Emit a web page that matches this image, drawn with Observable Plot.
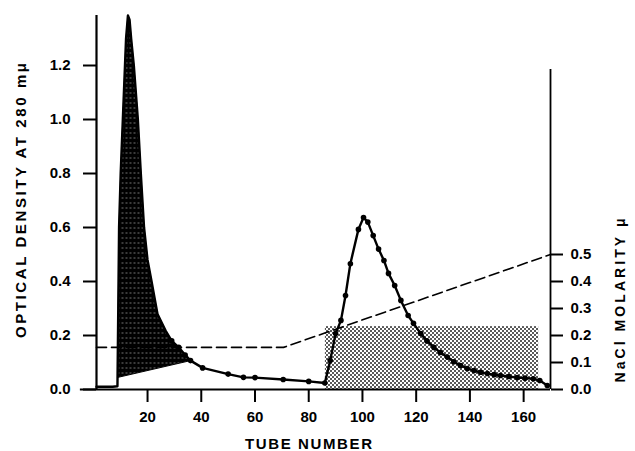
<!DOCTYPE html>
<html><head><meta charset="utf-8">
<script src="https://cdn.jsdelivr.net/npm/d3@7"></script>
<script src="https://cdn.jsdelivr.net/npm/@observablehq/plot@0.6"></script>
<style>body{margin:0;background:#fff}</style>
</head><body>
<svg width="0" height="0" style="position:absolute">
<defs>
<pattern id="darkdots" width="4" height="5" patternUnits="userSpaceOnUse">
<rect width="4" height="5" fill="#000"/>
<circle cx="2" cy="2.5" r="0.6" fill="#fff"/>
</pattern>
<pattern id="halftone" width="4" height="4" patternUnits="userSpaceOnUse">
<rect width="4" height="4" fill="#fff"/>
<circle cx="1" cy="1" r="1" fill="#222"/>
<circle cx="3" cy="3" r="1" fill="#222"/>
</pattern>
</defs></svg>
<div id="chart"></div>
<script>
// Elution profile (tube number, optical density at 280 mμ)
const tubes = [1, 3, 5, 7, 8.8, 9.1, 9.4, 10, 10.8, 11.6, 12.0, 12.7, 13.3, 13.9, 14.9, 16.4, 17.5, 18.7, 20, 21.5, 23.7, 26.7, 29, 31.6, 34, 36,
  40.5, 50, 55.7, 60, 70.5, 80, 86, 88, 90, 92, 93.7, 95.5, 98.5, 100.4, 102, 104, 106, 108, 109.7, 112, 114.3, 117, 119,
  121.7, 124, 126.6, 129, 131.6, 134, 136.5, 139, 141.5, 144, 146.5, 149, 151.4, 154.5, 157.6, 160.5, 163.6, 166, 168.8];
const od = [0.01, 0.01, 0.01, 0.01, 0.012, 0.3, 0.6, 0.8, 1.0, 1.2, 1.3, 1.385, 1.37, 1.3, 1.2, 1.0, 0.8, 0.6, 0.48, 0.4, 0.28, 0.218, 0.18, 0.156, 0.128, 0.107,
  0.08, 0.057, 0.045, 0.044, 0.037, 0.03, 0.024, 0.107, 0.207, 0.256, 0.348, 0.466, 0.593, 0.637, 0.62, 0.57, 0.52, 0.478, 0.43, 0.385, 0.33, 0.274, 0.245,
  0.207, 0.18, 0.156, 0.137, 0.12, 0.103, 0.089, 0.078, 0.07, 0.064, 0.059, 0.055, 0.052, 0.048, 0.044, 0.042, 0.04, 0.033, 0.015];
const dotsFromTube = 29;
// First peak shading: curve between these tubes, closed by a straight lower edge
const peak1Tubes = [9, 36];
const peak1BaseOD = [0.045, 0.107];
// Second peak shaded band
const bandTubes = [86.2, 165.6];
const bandTop = 0.233;
// NaCl gradient (dashed)
const saltTubes = [1, 70.6, 170];
const saltMolarity = [0.156, 0.156, 0.5];
// Ticks
const leftTicks = [0, 0.2, 0.4, 0.6, 0.8, 1.0, 1.2];
const rightTicks = [0, 0.1, 0.2, 0.3, 0.4, 0.5];
const xTicks = [20, 40, 60, 80, 100, 120, 140, 160];
const xTitle = "TUBE NUMBER";
const yTitle = "OPTICAL DENSITY AT 280 mμ";
const y2Title = "NaCl MOLARITY μ";

const curve = tubes.map((t, i) => ({tube: t, od: od[i]}));
const peak1Poly = curve.filter(d => d.tube >= peak1Tubes[0] && d.tube <= peak1Tubes[1])
  .concat([{tube: peak1Tubes[1], od: peak1BaseOD[1]}, {tube: peak1Tubes[0], od: peak1BaseOD[0]}]);
const salt = saltTubes.map((t, i) => ({tube: t, m: saltMolarity[i]}));
const band = [{x1: bandTubes[0], x2: bandTubes[1], top: bandTop}];

const chart = Plot.plot({
  width: 635, height: 451,
  marginLeft: 96, marginRight: 85, marginTop: 11, marginBottom: 62,
  x: {domain: [1, 170]},
  y: {domain: [0, 1.4]},
  style: {fontFamily: "'Liberation Sans', Arial, sans-serif", fontSize: "15px", fontWeight: "bold", color: "#000", background: "#fff"},
  marks: [
    Plot.rect(band, {x1: "x1", x2: "x2", y1: 0, y2: "top", fill: "url(#halftone)"}),
    Plot.line(peak1Poly, {x: "tube", y: "od", fill: "url(#darkdots)", stroke: "#000", strokeWidth: 1}),
    Plot.line(salt, {x: "tube", y: "m", stroke: "#000", strokeWidth: 1.6, strokeDasharray: "10,5"}),
    Plot.line(curve, {x: "tube", y: "od", stroke: "#000", strokeWidth: 2.4}),
    Plot.dot(curve.filter(d => d.tube >= dotsFromTube), {x: "tube", y: "od", r: 2.8, fill: "#000", stroke: "none"}),
    Plot.ruleX([1], {y1: 0, y2: 1.385, strokeWidth: 2.2}),
    Plot.ruleX([170], {y1: 0, y2: 1.185, strokeWidth: 1.8}),
    Plot.ruleY([0], {x1: -5, x2: 170, strokeWidth: 2.2}),
    Plot.axisY(leftTicks, {anchor: "left", tickSize: 13, tickPadding: 13, tickFormat: d3.format(".1f"), strokeWidth: 2, label: null}),
    Plot.axisY(rightTicks, {anchor: "right", tickSize: 12, tickPadding: 8, tickFormat: d3.format(".1f"), strokeWidth: 2, label: null}),
    Plot.axisX(xTicks, {anchor: "bottom", tickSize: 13, tickPadding: 9, strokeWidth: 2, label: null}),
    Plot.text([xTitle], {frameAnchor: "bottom", textAnchor: "middle", lineAnchor: "middle", dx: -15, dy: 54.5, fontSize: 15, fontWeight: "bold"}),
    Plot.text([yTitle], {frameAnchor: "left", textAnchor: "middle", lineAnchor: "middle", rotate: -90, dx: -75, dy: 0, fontSize: 15, fontWeight: "bold"}),
    Plot.text([y2Title], {frameAnchor: "right", textAnchor: "middle", lineAnchor: "middle", rotate: -90, dx: 70, dy: 100, fontSize: 14, fontWeight: "bold"})
  ]
});
document.getElementById("chart").appendChild(chart);
const spans = {[xTitle]: 127, [yTitle]: 275, [y2Title]: 164};
d3.select(chart).selectAll("text").each(function() {
  const t = this.textContent;
  if (spans[t]) {
    const len = this.getComputedTextLength();
    const n = [...t].length;
    const ls = Math.max(0, (spans[t] - len) / (n - 1));
    d3.select(this).style("letter-spacing", ls + "px");
    // compensate the trailing spacing so the text stays centred
    const cur = +d3.select(this).attr("dx") || 0;
    d3.select(this).attr("dx", cur + ls / 2);
  }
});
</script>
</body></html>
